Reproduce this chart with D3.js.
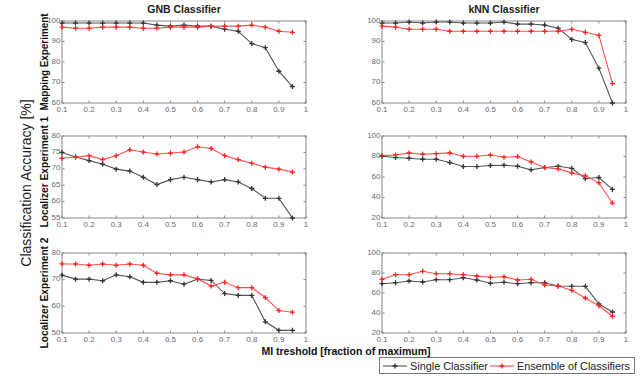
<!DOCTYPE html>
<html><head><meta charset="utf-8">
<script src="https://cdn.jsdelivr.net/npm/d3@7"></script>
<style>body{margin:0;background:#fff}svg{display:block}text{font-family:"Liberation Sans",Arial,sans-serif}</style>
</head><body>
<svg id="c" width="641" height="376"></svg>
<script>
const thresholds = [0.1,0.15,0.2,0.25,0.3,0.35,0.4,0.45,0.5,0.55,0.6,0.65,0.7,0.75,0.8,0.85,0.9,0.95];
const xTicks = [0.1,0.2,0.3,0.4,0.5,0.6,0.7,0.8,0.9,1];
const classifiers = ["GNB Classifier","kNN Classifier"];
const experiments = ["Mapping Experiment","Localizer Experiment 1","Localizer Experiment 2"];
const seriesNames = ["Single Classifier","Ensemble of Classifiers"];

const gnbMapSingle   = [99,99,99,99,99,99,99,98,97.5,98,97.5,97.5,96,95,89,87,75.5,68];
const gnbMapEnsemble = [97,96.5,96.5,97,97,97,96.5,96.5,97,97,97,97.5,97.5,97.5,98,97,95,94.5];
const knnMapSingle   = [99,99,99.5,99,99.5,99.5,99,99,99,99.5,98.5,98.5,98,96.5,91,89.5,77,60];
const knnMapEnsemble = [97.5,97,96,96,96,95,95,95,95,95,95,95,95,95,96,94.5,93,69.5];

const gnbLoc1Single   = [75,73.6,72.5,71.4,69.9,69.3,67.4,65.2,66.7,67.4,66.7,66,66.7,66,64,61,61,55];
const gnbLoc1Ensemble = [73.2,73.6,74,72.8,74,75.8,75.1,74.5,74.8,75.1,76.7,76.2,74,72.8,71.7,70.5,69.9,69];
const knnLoc1Single   = [80.2,79,78.3,77.3,77.3,74.1,70.2,70.2,71.2,71.5,70.5,67,69.2,70.5,68.5,58.5,59.5,47.9];
const knnLoc1Ensemble = [80.9,81.5,83.5,82.2,82.8,83.5,80.2,80.2,81.5,79.3,79.9,74.7,69.2,67.9,64,61.1,54.3,34.6];

const gnbLoc2Single   = [71.7,70.2,70.2,69.6,71.8,71.1,69,69,69.6,68.3,70.2,69.7,64.8,64.1,64.1,54.2,51,51];
const gnbLoc2Ensemble = [75.9,75.9,75.4,75.9,75.4,75.9,75.4,72.4,71.8,71.8,70.3,67.6,69,67,67,63.3,58.4,57.8];
const knnLoc2Single   = [69.3,70.3,72,71,73.3,73.3,75.3,73,69.7,70.7,69.3,70.3,70.3,67,66.7,66.7,49,41];
const knnLoc2Ensemble = [73.7,78.3,78.3,81.7,79.3,79.3,78.3,77,75.7,76.3,73,73.7,68,67,62.7,55,47.3,36.7];

const yDomains = [[[60,100],[60,100]],[[55,80],[20,100]],[[50,80],[20,100]]];
const yTickSets = [[[60,70,80,90,100],[60,70,80,90,100]],[[55,60,65,70,75,80],[20,40,60,80,100]],[[50,60,70,80],[20,40,60,80,100]]];
const panelData = [
  [[gnbMapSingle,gnbMapEnsemble],[knnMapSingle,knnMapEnsemble]],
  [[gnbLoc1Single,gnbLoc1Ensemble],[knnLoc1Single,knnLoc1Ensemble]],
  [[gnbLoc2Single,gnbLoc2Ensemble],[knnLoc2Single,knnLoc2Ensemble]]
];

const svg = d3.select("#c");
const colX = [[62,306],[382,626]];
const rowY = [[21,103],[136,218],[253,333]];
const colors = ["#333","#ff2020"];
const lineColors = ["#555","#ff5050"];
const axisColor = "#8a8a8a";
const tickTextColor = "#6a6a6a";

function plus(g, x, y, c){
  g.append("path").attr("d",`M${x-2.5},${y}H${x+2.5}M${x},${y-2.5}V${y+2.5}`).attr("stroke",c).attr("stroke-width",1.3);
}

for(let r=0;r<3;r++){
  for(let c=0;c<2;c++){
    const x = d3.scaleLinear().domain([0.1,1]).range(colX[c]);
    const y = d3.scaleLinear().domain(yDomains[r][c]).range([rowY[r][1],rowY[r][0]]);
    const g = svg.append("g");
    g.append("rect").attr("x",colX[c][0]).attr("y",rowY[r][0]).attr("width",colX[c][1]-colX[c][0]).attr("height",rowY[r][1]-rowY[r][0])
      .attr("fill","none").attr("stroke",axisColor).attr("stroke-width",1);
    xTicks.forEach(t=>{
      const xx = x(t);
      g.append("line").attr("x1",xx).attr("x2",xx).attr("y1",rowY[r][1]).attr("y2",rowY[r][1]-2.5).attr("stroke",axisColor);
      g.append("line").attr("x1",xx).attr("x2",xx).attr("y1",rowY[r][0]).attr("y2",rowY[r][0]+2.5).attr("stroke",axisColor);
      g.append("text").attr("x",xx).attr("y",rowY[r][1]+9).attr("text-anchor","middle").attr("font-size",8).attr("fill",tickTextColor).text(d3.format("")(t));
    });
    yTickSets[r][c].forEach(t=>{
      const yy = y(t);
      g.append("line").attr("x1",colX[c][0]).attr("x2",colX[c][0]+2.5).attr("y1",yy).attr("y2",yy).attr("stroke",axisColor);
      g.append("line").attr("x1",colX[c][1]).attr("x2",colX[c][1]-2.5).attr("y1",yy).attr("y2",yy).attr("stroke",axisColor);
      g.append("text").attr("x",colX[c][0]-1.5).attr("y",yy+1.5).attr("text-anchor","end").attr("font-size",8).attr("fill",tickTextColor).text(t);
    });
    const line = d3.line().x((d,i)=>x(thresholds[i])).y(d=>y(d));
    panelData[r][c].forEach((vals,s)=>{
      g.append("path").attr("d",line(vals)).attr("fill","none").attr("stroke",lineColors[s]).attr("stroke-width",1.1);
      vals.forEach((v,i)=>plus(g,x(thresholds[i]),y(v),colors[s]));
    });
  }
}
classifiers.forEach((t,c)=>{
  svg.append("text").attr("x",(colX[c][0]+colX[c][1])/2).attr("y",13).attr("text-anchor","middle")
    .attr("font-size",10.5).attr("font-weight","bold").attr("fill","#222").text(t);
});
const rowLabelCenters = [62,172,293];
const rowLabelLengths = [97,111,111];
experiments.forEach((t,r)=>{
  svg.append("text").attr("transform",`translate(47.5,${rowLabelCenters[r]}) rotate(-90)`).attr("text-anchor","middle")
    .attr("font-size",10).attr("font-weight","bold").attr("fill","#111")
    .attr("textLength",rowLabelLengths[r]).attr("lengthAdjust","spacingAndGlyphs").text(t);
});
svg.append("text").attr("transform",`translate(31,183) rotate(-90)`).attr("text-anchor","middle")
  .attr("font-size",14).attr("fill","#222").text("Classification Accuracy [%]");
svg.append("text").attr("x",346).attr("y",355).attr("text-anchor","middle")
  .attr("font-size",10.5).attr("font-weight","bold").attr("fill","#111").text("MI treshold [fraction of maximum]");
const lg = svg.append("g");
lg.append("rect").attr("x",379.5).attr("y",357.5).attr("width",255).attr("height",16).attr("fill","#fff").attr("stroke","#777");
const legX = [[383,407,410,78],[490,514,517,113]];
seriesNames.forEach((n,s)=>{
  lg.append("line").attr("x1",legX[s][0]).attr("x2",legX[s][1]).attr("y1",366).attr("y2",366).attr("stroke",lineColors[s]).attr("stroke-width",1.1);
  plus(lg,(legX[s][0]+legX[s][1])/2,366,colors[s]);
  lg.append("text").attr("x",legX[s][2]).attr("y",370).attr("font-size",11).attr("fill","#222")
    .attr("textLength",legX[s][3]).attr("lengthAdjust","spacingAndGlyphs").text(n);
});
</script>
</body></html>
